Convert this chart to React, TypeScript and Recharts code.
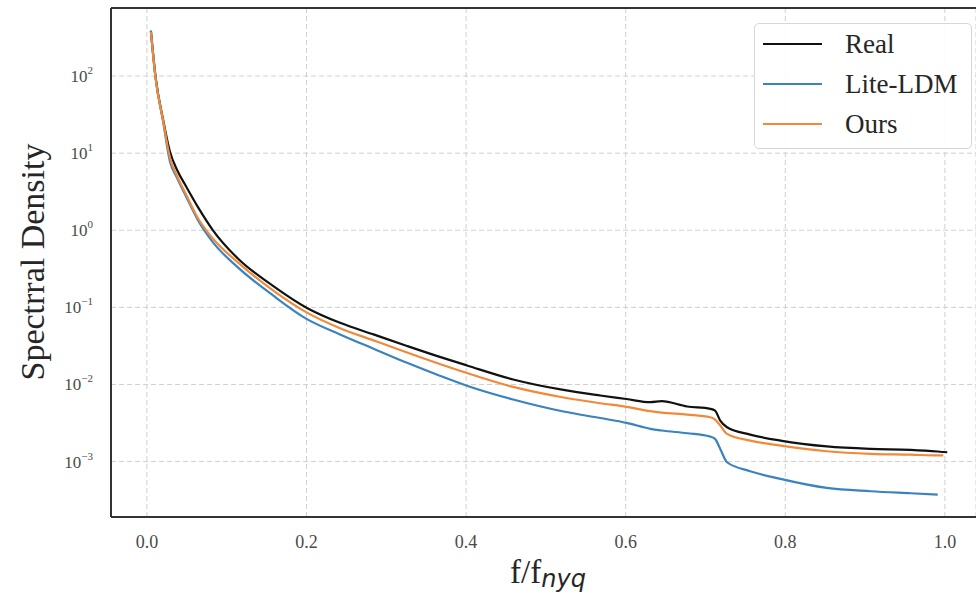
import {
  LineChart,
  Line,
  XAxis,
  YAxis,
  CartesianGrid,
  Legend,
  ReferenceLine,
} from 'recharts';

// normalised frequency samples (f / f_nyq)
const freq = [
  0.005, 0.0107, 0.0204, 0.0288, 0.038, 0.0495, 0.064, 0.0828, 0.114, 0.158,
  0.2, 0.242, 0.284, 0.326, 0.367, 0.401, 0.459, 0.522, 0.568, 0.601, 0.631,
  0.645, 0.677, 0.706, 0.712, 0.7185, 0.727, 0.756, 0.794, 0.852, 0.907, 0.957,
  0.991, 0.998, 1.003,
];

const real = [
  384, 100, 26.8, 10.5, 6.0, 3.65, 2.0, 1.0, 0.43, 0.19, 0.099, 0.063,
  0.0446, 0.0316, 0.0228, 0.01766, 0.01161, 0.00849, 0.0072, 0.00648, 0.00589,
  0.00607, 0.00518, 0.00483, 0.00459, 0.0034, 0.00279, 0.00224, 0.00187,
  0.00157, 0.00146, 0.00142, 0.00135, 0.00133, 0.00132,
];

const liteLdm = [
  390, 100, 25.3, 7.87, 4.73, 2.69, 1.35, 0.698, 0.33, 0.143, 0.071, 0.0446,
  0.0291, 0.0191, 0.013, 0.00964, 0.00638, 0.00446, 0.00367, 0.00318, 0.00266,
  0.00253, 0.00233, 0.00211, 0.00197, 0.00146, 0.00098, 0.00075, 0.000596,
  0.000455, 0.000412, 0.000388, 0.000373, null, null,
];

const ours = [
  373, 96, 26, 8.8, 5.0, 2.85, 1.43, 0.776, 0.384, 0.166, 0.0861, 0.0537,
  0.0373, 0.026, 0.01845, 0.0141, 0.00929, 0.00678, 0.00571, 0.00513, 0.0045,
  0.00432, 0.00407, 0.00376, 0.00351, 0.00294, 0.00229, 0.00187, 0.00161,
  0.00136, 0.00126, 0.00123, 0.0012, 0.0012, null,
];

const xTicks = [0, 0.2, 0.4, 0.6, 0.8, 1.0];
const yTicks = [1e-3, 1e-2, 1e-1, 1, 10, 100];

const series = [
  { key: 'real', name: 'Real', color: '#111111' },
  { key: 'lite', name: 'Lite-LDM', color: '#3a82c0' },
  { key: 'ours', name: 'Ours', color: '#f08a3a' },
];

const data = freq.map((f, i) => ({
  f,
  real: real[i],
  lite: liteLdm[i],
  ours: ours[i],
}));

const SERIF = '"Liberation Serif", "DejaVu Serif", serif';

function YTick(props: any) {
  const { x, y, payload } = props;
  const exp = Math.round(Math.log10(payload.value));
  return (
    <text x={x} y={y + 6} textAnchor="end" fill="#4a4a4a" fontFamily={SERIF} fontSize={17}>
      <tspan>10</tspan>
      <tspan dy={-8} fontSize={11}>
        {exp < 0 ? '\u2212' + Math.abs(exp) : String(exp)}
      </tspan>
    </text>
  );
}

function LegendBox() {
  return (
    <div
      style={{
        width: 218,
        height: 126,
        boxSizing: 'border-box',
        border: '1px solid #d6d6d6',
        borderRadius: 5,
        background: 'rgba(255,255,255,0.9)',
        fontFamily: SERIF,
        fontSize: 27,
        color: '#262626',
      }}
    >
      {series.map((s) => (
        <div key={s.key} style={{ display: 'flex', alignItems: 'center', height: 40 }}>
          <span
            style={{
              display: 'inline-block',
              width: 59,
              borderTop: `2.5px solid ${s.color}`,
              marginLeft: 8,
              marginRight: 23,
            }}
          />
          <span>{s.name}</span>
        </div>
      ))}
    </div>
  );
}

export default function App() {
  return (
    <div style={{ position: 'absolute', left: 0, top: 0, background: '#fff' }}>
      <LineChart
        width={976}
        height={596}
        data={data}
        margin={{ top: 8, right: 0, left: 0, bottom: 0 }}
      >
        <CartesianGrid stroke="#cfcfcf" strokeDasharray="5 3" />
        <XAxis
          dataKey="f"
          type="number"
          domain={[-0.045, 1.039]}
          ticks={xTicks}
          allowDataOverflow
          height={79}
          tickSize={0}
          tickMargin={18}
          tickFormatter={(v: number) => v.toFixed(1)}
          tick={{ fill: '#4a4a4a', fontSize: 18, fontFamily: SERIF }}
          axisLine={{ stroke: '#333', strokeWidth: 2 }}
          label={{
            content: () => (
              <text x={548} y={583} textAnchor="middle" fill="#262626">
                <tspan fontFamily={SERIF} fontSize={33}>f/f</tspan>
                <tspan
                  fontFamily='"DejaVu Sans", sans-serif'
                  fontStyle="italic"
                  fontSize={24}
                  dy={4}
                >
                  nyq
                </tspan>
              </text>
            ),
          }}
        />
        <YAxis
          scale="log"
          type="number"
          domain={[1.91e-4, 764]}
          ticks={yTicks}
          allowDataOverflow
          width={111}
          tickSize={0}
          tickMargin={18}
          tick={<YTick />}
          axisLine={{ stroke: '#333', strokeWidth: 2 }}
          label={{
            content: () => (
              <text
                x={44}
                y={262}
                transform="rotate(-90 44 262)"
                textAnchor="middle"
                fontFamily={SERIF}
                fontSize={34}
                fill="#262626"
              >
                Spectrral Density
              </text>
            ),
          }}
        />
        <ReferenceLine y={764} stroke="#333" strokeWidth={2} ifOverflow="extendDomain" />
        {series.map((s) => (
          <Line
            key={s.key}
            dataKey={s.key}
            name={s.name}
            type="monotone"
            stroke={s.color}
            strokeWidth={2.2}
            dot={false}
            isAnimationActive={false}
          />
        ))}
        <Legend
          layout="vertical"
          align="center"
          verticalAlign="middle"
          width={218}
          wrapperStyle={{ top: 23, left: 754, width: 218 }}
          content={() => <LegendBox />}
        />
      </LineChart>
    </div>
  );
}
